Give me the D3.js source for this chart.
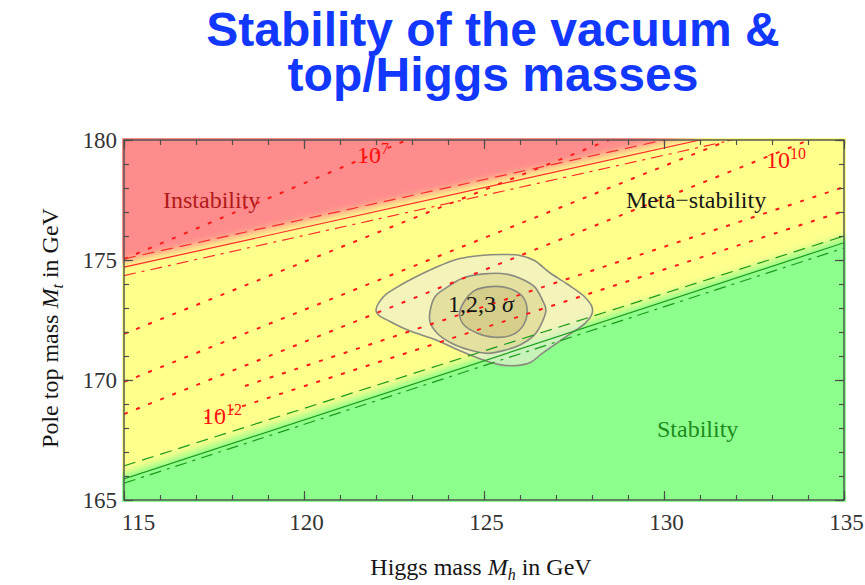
<!DOCTYPE html>
<html><head><meta charset="utf-8">
<script src="https://cdn.jsdelivr.net/npm/d3@7"></script>
<style>body{margin:0;background:#fff}</style>
</head><body>
<svg id="c" width="865" height="585"></svg>
<script>
// ---------------- data ----------------
const titleLines = ["Stability of the vacuum &", "top/Higgs masses"];
const xTicks = [115, 120, 125, 130, 135];
const yTicks = [165, 170, 175, 180];
const xMinor = d3.range(115, 136, 1);
const yMinor = d3.range(165, 181, 1);
// boundaries [Mh, Mt]
const stabilityCentral = [[115, 165.875], [135, 175.72]];
const stabilityUpper   = [[115, 166.42],  [135, 176.0]];
const stabilityLower   = [[115, 165.70],  [135, 175.5]];
const instabilityCentral = [[115, 174.7],  [131.0, 180]];
const instabilityUpper   = [[115, 175.05], [130.0, 180]];
const instabilityLower   = [[115, 174.35], [131.9, 180]];
// instability-scale contours (dotted), Lambda = 10^7 ... 10^12 GeV
const scale7  = [[115, 175.04], [122.86, 180]];
const scale8  = [[115, 171.92], [128.47, 180]];
const scale9  = [[115, 169.92], [131.81, 180]];
const scale10 = [[115, 168.58], [134.03, 180]];
const scale11 = [[118.36, 169.75], [135, 178.04]];
const scale12 = [[117.25, 168.40], [135, 177.04]];
// 1,2,3 sigma contours [Mh, Mt]
const sigma3 = [[122.0,172.90],[122.2,173.46],[122.6,173.88],[123.1,174.29],[123.8,174.78],[124.3,175.05],[124.9,175.19],[125.5,175.23],[126.0,175.19],[126.4,174.98],[126.8,174.50],[127.3,174.01],[127.8,173.46],[128.0,173.04],[128.0,172.76],[127.8,172.35],[127.4,171.93],[127.0,171.51],[126.6,171.09],[126.3,170.74],[125.9,170.60],[125.4,170.65],[124.9,170.88],[124.3,171.24],[123.7,171.65],[122.9,172.07],[122.4,172.43],[122.07,172.71]];
const sigma2 = [[123.5,172.85],[123.64,173.47],[124.0,173.89],[124.4,174.24],[125.0,174.42],[125.6,174.42],[126.0,174.24],[126.4,173.89],[126.6,173.40],[126.72,172.92],[126.6,172.36],[126.4,171.88],[126.0,171.46],[125.6,171.25],[125.1,171.11],[124.6,171.25],[124.1,171.53],[123.7,171.95],[123.5,172.43]];
const sigma1 = [[124.33,172.86],[124.7,173.69],[125.3,173.90],[125.8,173.76],[126.1,173.42],[126.2,172.86],[126.1,172.30],[125.8,171.89],[125.3,171.78],[124.8,171.96],[124.4,172.37]];

// ---------------- layout ----------------
const W = 865, H = 585;
const L = 124, R = 844, T = 140, B = 500;
const svg = d3.select("#c");
const x = d3.scaleLinear().domain([115, 135]).range([L, R]);
const y = d3.scaleLinear().domain([165, 180]).range([B, T]);
const serif = "'Liberation Serif','Times New Roman',serif";

const defs = svg.append("defs");
defs.append("clipPath").attr("id", "bgclip").append("rect")
  .attr("x", L - 2).attr("y", T - 2).attr("width", R - L + 4).attr("height", B - T + 4);
defs.append("clipPath").attr("id", "plotclip").append("rect")
  .attr("x", L).attr("y", T).attr("width", R - L).attr("height", B - T);
const f = defs.append("filter").attr("id", "blur")
  .attr("filterUnits", "userSpaceOnUse").attr("x", 0).attr("y", 0).attr("width", W).attr("height", H);
f.append("feGaussianBlur").attr("stdDeviation", 4.5);

// title
svg.append("g").selectAll("text").data(titleLines).join("text")
  .attr("x", 493).attr("y", (d, i) => 46 + i * 45)
  .attr("text-anchor", "middle")
  .attr("font-family", "'Liberation Sans',Arial,sans-serif")
  .attr("font-weight", "bold").attr("font-size", 48)
  .attr("fill", "#1238ff").text(d => d);

// background regions
function extend(seg, mh) {
  const [[x0, y0], [x1, y1]] = seg;
  return y0 + (y1 - y0) * (mh - x0) / (x1 - x0);
}
const bgClip = svg.append("g").attr("clip-path", "url(#bgclip)");
const bg = bgClip.append("g").attr("filter", "url(#blur)");
bg.append("rect").attr("x", L - 20).attr("y", T - 20).attr("width", R - L + 40).attr("height", B - T + 40).attr("fill", "#ffff8c");
const poly = d3.line().x(d => x(d[0])).y(d => y(d[1]));
const shiftR = 0.2, shiftG = 0.25;
bg.append("path").attr("fill", "#ff8c8c")
  .attr("d", poly([[113, extend(instabilityCentral, 113) + shiftR], [137, extend(instabilityCentral, 137) + shiftR], [137, 184], [113, 184]]) + "Z");
bg.append("path").attr("fill", "#8cff8c")
  .attr("d", poly([[113, extend(stabilityCentral, 113) + shiftG], [137, extend(stabilityCentral, 137) + shiftG], [137, 160], [113, 160]]) + "Z");

const plot = svg.append("g").attr("clip-path", "url(#plotclip)");

// sigma contours
const closed = d3.line().x(d => x(d[0])).y(d => y(d[1])).curve(d3.curveCatmullRomClosed.alpha(0.5));
[[sigma3, "rgba(236,236,214,0.62)"], [sigma2, "rgba(200,190,110,0.35)"], [sigma1, "rgba(190,180,110,0.4)"]]
  .forEach(([pts, fill]) => {
    plot.append("path").attr("d", closed(pts)).attr("fill", fill)
      .attr("stroke", "#8a8a7e").attr("stroke-width", 1.6);
  });

// dotted instability-scale lines
const seg = d3.line().x(d => x(d[0])).y(d => y(d[1]));
[scale7, scale8, scale9, scale10, scale11, scale12].forEach(s => {
  plot.append("path").attr("d", seg(s)).attr("fill", "none")
    .attr("stroke", "#ff1a1a").attr("stroke-width", 2).attr("stroke-dasharray", "4 9");
});

// boundary bands
const bands = [
  [instabilityUpper, "#ff2a2a", "12 7"], [instabilityCentral, "#ff2a2a", null], [instabilityLower, "#ff2a2a", "12 6 3 6"],
  [stabilityUpper, "#1c9a1c", "12 7"], [stabilityCentral, "#1c9a1c", null], [stabilityLower, "#1c9a1c", "12 6 3 6"]
];
bands.forEach(([s, c, dash]) => {
  const p = plot.append("path").attr("d", seg(s)).attr("fill", "none")
    .attr("stroke", c).attr("stroke-width", 1.2);
  if (dash) p.attr("stroke-dasharray", dash);
});

// region labels
function label(txt, px, py, color) {
  svg.append("text").attr("x", px).attr("y", py).attr("font-family", serif)
    .attr("font-size", 24).attr("fill", color).text(txt);
}
label("Instability", 163, 208, "#b01a1a");
label("Meta\u2212stability", 626, 208, "#151515");
label("Stability", 657, 437, "#1e8a1e");

// sigma label
const sg = svg.append("text").attr("x", 448).attr("y", 312).attr("font-family", serif)
  .attr("font-size", 24).attr("fill", "#151515");
sg.append("tspan").text("1,2,3 ");
sg.append("tspan").attr("font-style", "italic").text("\u03c3");

// scale labels
function powLabel(px, py, exp) {
  const t = svg.append("text").attr("x", px).attr("y", py).attr("font-family", serif)
    .attr("font-size", 24).attr("fill", "#ff1010");
  t.append("tspan").text("10");
  t.append("tspan").attr("font-size", 16).attr("dy", -9).text(exp);
}
powLabel(357, 163, "7");
powLabel(766, 168, "10");
powLabel(202, 424, "12");

// frame
svg.append("rect").attr("x", L).attr("y", T).attr("width", R - L).attr("height", B - T)
  .attr("fill", "none").attr("stroke", "#4a4f4a").attr("stroke-width", 1.4);

// ticks via d3 axes (inward)
function axes(gen, tr, vals, size, labels) {
  const a = gen.tickValues(vals).tickSize(-size).tickSizeOuter(0);
  if (!labels) a.tickFormat("");
  const g = svg.append("g").attr("transform", tr).call(a);
  g.select(".domain").remove();
  g.selectAll("line").attr("stroke", "#4a4f4a").attr("stroke-width", 1.2);
  return g;
}
axes(d3.axisBottom(x), `translate(0,${B})`, xMinor, 5, false);
axes(d3.axisTop(x), `translate(0,${T})`, xMinor, 5, false);
axes(d3.axisLeft(y), `translate(${L},0)`, yMinor, 5, false);
axes(d3.axisRight(y), `translate(${R},0)`, yMinor, 5, false);
const gb = axes(d3.axisBottom(x), `translate(0,${B})`, xTicks, 9, true);
axes(d3.axisTop(x), `translate(0,${T})`, xTicks, 9, false);
const gl = axes(d3.axisLeft(y), `translate(${L},0)`, yTicks, 9, true);
axes(d3.axisRight(y), `translate(${R},0)`, yTicks, 9, false);
gb.selectAll("text").attr("font-family", serif).attr("font-size", 23).attr("fill", "#333")
  .attr("y", 30).attr("dy", 0)
  .attr("x", (d, i) => i === 0 ? 14 : 2);
gl.selectAll("text").attr("font-family", serif).attr("font-size", 23).attr("fill", "#333")
  .attr("x", -7).attr("dy", "0.33em");

// axis titles
const xt = svg.append("text").attr("x", 481).attr("y", 575).attr("text-anchor", "middle")
  .attr("font-family", serif).attr("font-size", 24).attr("fill", "#151515");
xt.append("tspan").text("Higgs mass ");
xt.append("tspan").attr("font-style", "italic").text("M");
xt.append("tspan").attr("font-style", "italic").attr("font-size", 16).attr("dy", 5).text("h");
xt.append("tspan").attr("dy", -5).text(" in GeV");

const yt = svg.append("text").attr("transform", "translate(58,328) rotate(-90)").attr("text-anchor", "middle")
  .attr("font-family", serif).attr("font-size", 24).attr("fill", "#151515");
yt.append("tspan").text("Pole top mass ");
yt.append("tspan").attr("font-style", "italic").text("M");
yt.append("tspan").attr("font-style", "italic").attr("font-size", 16).attr("dy", 5).text("t");
yt.append("tspan").attr("dy", -5).text(" in GeV");
</script>
</body></html>
